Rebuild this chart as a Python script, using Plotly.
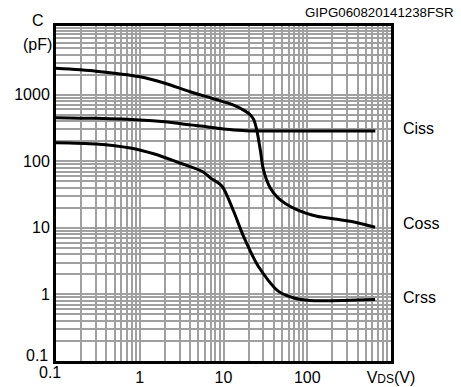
import plotly.graph_objects as go

# ---- data ----
vds_ciss = [0.1, 0.3, 1, 2, 4, 6.3, 10, 15, 21, 50, 200, 650]
ciss = [451, 440, 417, 390, 351, 330, 305, 292, 285, 285, 285, 285]

vds_coss = [0.1, 0.3, 1, 2, 4, 8, 13, 18, 21, 23, 25, 27.5, 30, 36, 45, 75, 130, 204, 325, 646]
coss = [2477, 2250, 1853, 1480, 1105, 850, 699, 570, 495, 420, 290, 148, 74, 40, 28, 18.7, 14.9, 13.7, 12.5, 10.2]

vds_crss = [0.1, 0.3, 0.77, 1.5, 3, 5.6, 7, 9.6, 13.2, 17.3, 26, 45, 68, 108, 646]
crss = [190, 182, 158, 128, 94, 70, 56, 42, 17.7, 7.5, 2.65, 1.12, 0.89, 0.81, 0.84]

x_tickvals = [1, 10, 100, 1000]
x_ticktext = ["1", "10", "100", "V<span style='font-size:12px'>DS</span>(V)"]
y_tickvals = [1, 10, 100, 1000]
y_ticktext = ["1", "10", "100", "1000"]

W, H = 461, 387
L, R, T, B = 56, 70, 26, 26
PW, PH = W - L - R, H - T - B
FONT = "Liberation Sans, Arial, sans-serif"


def px(x):
    return (x - L) / PW


def py(y):
    return (H - B - y) / PH


fig = go.Figure()
for xs, ys, name in [(vds_ciss, ciss, "Ciss"), (vds_coss, coss, "Coss"), (vds_crss, crss, "Crss")]:
    fig.add_trace(go.Scatter(x=xs, y=ys, mode="lines", name=name,
                             line=dict(color="black", width=3, shape="spline", smoothing=0.8)))

grid = "#a0a0a0"
fig.update_xaxes(type="log", range=[-1, 3], showline=True, mirror=True, linecolor="black",
                 linewidth=3, tickvals=x_tickvals, ticktext=x_ticktext, ticks="",
                 showgrid=True, gridcolor=grid, gridwidth=1.5, zeroline=False, automargin=False,
                 minor=dict(dtick="D1", showgrid=True, gridcolor=grid, gridwidth=1.5, ticks=""),
                 tickfont=dict(size=16, color="black", family=FONT))
fig.update_yaxes(type="log", range=[-1, 4.03], showline=True, mirror=True, linecolor="black",
                 linewidth=3, tickvals=y_tickvals, ticktext=y_ticktext, ticks="",
                 showgrid=True, gridcolor=grid, gridwidth=1.5, zeroline=False, automargin=False,
                 minor=dict(dtick="D1", showgrid=True, gridcolor=grid, gridwidth=1.5, ticks=""),
                 tickfont=dict(size=16, color="black", family=FONT))

anns = [
    ("GIPG060820141238FSR", 303, 13, "left", 13.3),
    ("C", 38, 21, "center", 16),
    ("(pF)", 54, 44, "right", 16),
    ("0.1", 50, 355, "right", 16),
    ("0.1", 50, 372, "center", 16),
    ("Ciss", 401, 128, "left", 16),
    ("Coss", 401, 223, "left", 16),
    ("Crss", 401, 297, "left", 16),
]
for text, x, y, anchor, size in anns:
    fig.add_annotation(text=text, x=px(x), y=py(y), xref="paper", yref="paper",
                       xanchor=anchor, yanchor="middle", showarrow=False,
                       font=dict(size=size, color="black", family=FONT))

fig.update_layout(width=W, height=H, margin=dict(l=L, r=R, t=T, b=B, autoexpand=False),
                  paper_bgcolor="white", plot_bgcolor="white", showlegend=False,
                  font=dict(family=FONT, color="black"))

fig.write_html("out.html", config={"displayModeBar": False},
               post_script="document.body.style.margin='0';document.body.style.padding='0';")
